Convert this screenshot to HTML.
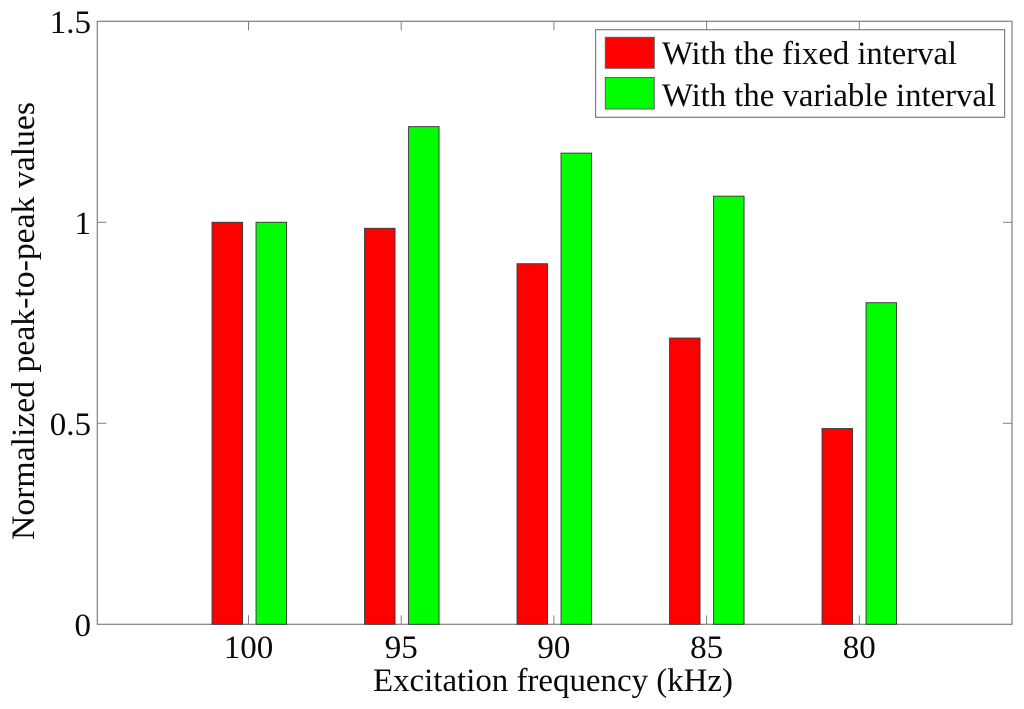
<!DOCTYPE html>
<html>
<head>
<meta charset="utf-8">
<style>
html,body{margin:0;padding:0;background:#fff;width:1024px;height:709px;overflow:hidden}
svg{display:block}
text{font-family:"Liberation Serif",serif;fill:#0a0a0a}
</style>
</head>
<body>
<svg id="chart" xmlns="http://www.w3.org/2000/svg" width="1024" height="709" viewBox="0 0 1024 709"></svg>
<script>
const categories = ['100', '95', '90', '85', '80'];
const fixedValues = [1, 0.985, 0.897, 0.712, 0.487];
const variableValues = [1, 1.238, 1.172, 1.065, 0.8];
const yTicks = [0, 0.5, 1, 1.5];
const yTickLabels = ['0', '0.5', '1', '1.5'];
const seriesNames = ['With the fixed interval', 'With the variable interval'];

const svg = document.getElementById('chart');
const NS = 'http://www.w3.org/2000/svg';
const left = 97.3, right = 1012, top_ = 21.3, bottom = 624.3;
const axisColor = '#808080';
function xTick(i) { return 248.5 + i * 152.7; }
function xBar(i) { return 249.3 + i * 152.5; }
function yScale(v) { return bottom - v * (bottom - top_) / 1.5; }
function make(tag, attrs, text) {
  const el = document.createElementNS(NS, tag);
  for (const k in attrs) el.setAttribute(k, attrs[k]);
  if (text !== undefined) el.textContent = text;
  svg.appendChild(el);
  return el;
}
function line(x1, y1, x2, y2, w) {
  return make('line', { x1: x1, y1: y1, x2: x2, y2: y2, stroke: axisColor, 'stroke-width': w || 1 });
}

let el = make('rect', { x: left, y: top_, width: right - left, height: bottom - top_, fill: '#fff', stroke: axisColor, 'stroke-width': 1.2 });



yTicks.forEach(function (t, i) {
  const y = yScale(t);
  if (i > 0 && i < yTicks.length - 1) {
    el = line(left, y, left + 9, y);
    
    
    el = line(right - 9, y, right, y);
    
    
  }
  el = make('text', { x: 91, y: y + 11.5, 'text-anchor': 'end', 'font-size': 33 }, yTickLabels[i]);
  
  
});

categories.forEach(function (c, i) {
  const x = xTick(i);
  el = line(x, bottom, x, bottom - 9);
  
  
  el = line(x, top_, x, top_ + 9);
  
  
  el = make('text', { x: x, y: 658, 'text-anchor': 'middle', 'font-size': 33 }, c);
  
  

  const barW = 30.5, off = 22;
  const bx = xBar(i);
  el = make('rect', { x: bx - off - barW / 2, y: yScale(fixedValues[i]), width: barW, height: bottom - yScale(fixedValues[i]), fill: '#ff0000', stroke: '#404040', 'stroke-width': 1 });
  
  
  el = make('rect', { x: bx + off - barW / 2, y: yScale(variableValues[i]), width: barW, height: bottom - yScale(variableValues[i]), fill: '#00ff00', stroke: '#404040', 'stroke-width': 1 });
  
  
});

el = make('text', { x: 373, y: 691, 'font-size': 33, textLength: 360, lengthAdjust: 'spacingAndGlyphs' }, 'Excitation frequency (kHz)');



el = make('text', { x: 0, y: 0, 'font-size': 33, textLength: 438, lengthAdjust: 'spacingAndGlyphs', transform: 'translate(34 540) rotate(-90)' }, 'Normalized peak-to-peak values');



el = make('rect', { x: 595.6, y: 29.7, width: 409, height: 87.6, fill: '#fff', stroke: axisColor, 'stroke-width': 1.2 });



el = make('rect', { x: 605.3, y: 37.3, width: 49, height: 31, fill: '#ff0000', stroke: '#606060', 'stroke-width': 1 });


el = make('text', { x: 662, y: 64, 'font-size': 33, textLength: 295, lengthAdjust: 'spacingAndGlyphs' }, seriesNames[0]);



el = make('rect', { x: 605.3, y: 77.5, width: 49, height: 31.5, fill: '#00ff00', stroke: '#606060', 'stroke-width': 1 });


el = make('text', { x: 662, y: 106, 'font-size': 33, textLength: 334, lengthAdjust: 'spacingAndGlyphs' }, seriesNames[1]);


</script>
</body>
</html>
